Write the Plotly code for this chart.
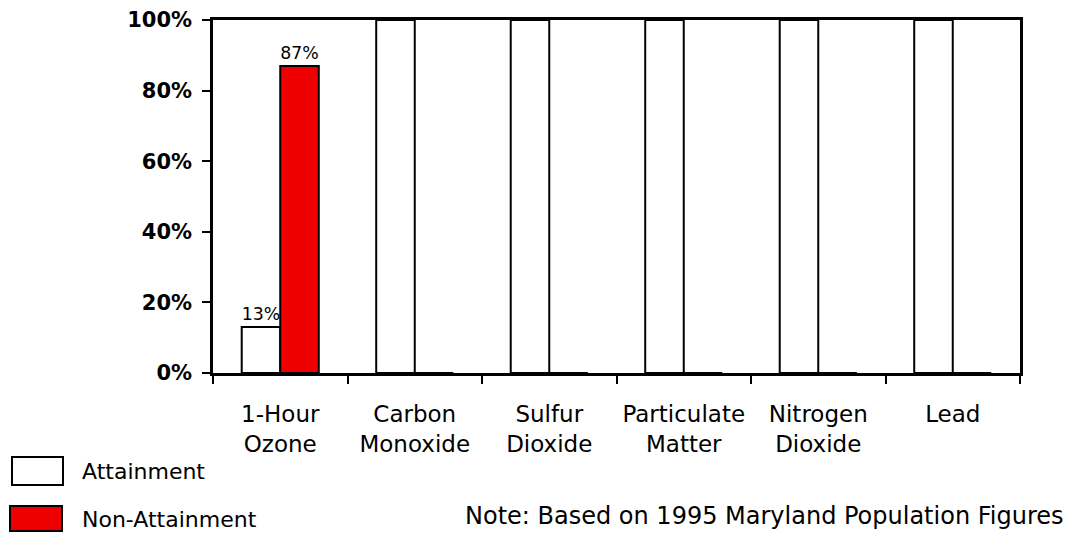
import plotly.graph_objects as go

categories = ["1-Hour<br>Ozone", "Carbon<br>Monoxide", "Sulfur<br>Dioxide",
              "Particulate<br>Matter", "Nitrogen<br>Dioxide", "Lead"]
attainment = [13, 100, 100, 100, 100, 100]
non_attainment = [87, 0, 0, 0, 0, 0]
y_ticks = [0, 20, 40, 60, 80, 100]
y_tick_labels = ["0%", "20%", "40%", "60%", "80%", "100%"]

FONT = "DejaVu Sans"
RED = "#ee0000"


def labels(vals):
    return [f"{v}%" if 0 < v < 100 else "" for v in vals]


fig = go.Figure()
fig.add_trace(go.Bar(
    x=categories, y=attainment, name="Attainment",
    marker=dict(color="white", line=dict(color="black", width=2)),
    text=labels(attainment), textposition="outside",
    textfont=dict(family=FONT, size=21, color="black"),
    cliponaxis=False, showlegend=False,
))
fig.add_trace(go.Bar(
    x=categories, y=non_attainment, name="Non-Attainment",
    marker=dict(color=RED, line=dict(color="black", width=2)),
    text=labels(non_attainment), textposition="outside",
    textfont=dict(family=FONT, size=21, color="black"),
    cliponaxis=False, showlegend=False,
))

fig.update_layout(
    width=1071, height=533,
    margin=dict(l=213, r=51, t=20, b=160, autoexpand=False),
    paper_bgcolor="white", plot_bgcolor="white",
    barmode="group", bargap=0.427, bargroupgap=0,
    font=dict(family=FONT, color="black"),
)
fig.update_xaxes(
    showline=True, linecolor="black", linewidth=2.5, mirror=True,
    ticks="outside", ticklen=8, tickwidth=2, tickcolor="black",
    tickson="boundaries", showgrid=False,
    tickfont=dict(family=FONT, size=23, color="black"),
    ticklabelstandoff=19, automargin=False,
)
fig.update_yaxes(
    range=[0, 100], tickmode="array", tickvals=y_ticks, ticktext=y_tick_labels,
    showline=True, linecolor="black", linewidth=2.5, mirror=True,
    ticks="outside", ticklen=8, tickwidth=2, tickcolor="black",
    showgrid=False, zeroline=False,
    tickfont=dict(family=FONT, size=21, color="black", weight="bold"),
    ticklabelstandoff=6, automargin=False,
)

W, H, L, B = 807.0, 353.0, 213.0, 373.0


def px(x):
    return (x - L) / W


def py(y):
    return (B - y) / H


fig.add_shape(type="rect", xref="paper", yref="paper",
              x0=px(12), x1=px(63), y0=py(485), y1=py(457),
              fillcolor="white", line=dict(color="black", width=2))
fig.add_shape(type="rect", xref="paper", yref="paper",
              x0=px(10), x1=px(62), y0=py(531), y1=py(506),
              fillcolor=RED, line=dict(color="black", width=2))
fig.add_annotation(xref="paper", yref="paper", x=px(80), y=py(471),
                   text="Attainment", showarrow=False, xanchor="left", yanchor="middle",
                   font=dict(family=FONT, size=22, color="black"))
fig.add_annotation(xref="paper", yref="paper", x=px(80), y=py(519),
                   text="Non-Attainment", showarrow=False, xanchor="left", yanchor="middle",
                   font=dict(family=FONT, size=22, color="black"))
fig.add_annotation(xref="paper", yref="paper", x=px(1066), y=py(516),
                   text="Note: Based on 1995 Maryland Population Figures", showarrow=False,
                   xanchor="right", yanchor="middle",
                   font=dict(family=FONT, size=24, color="black"))

fig.write_html("out.html", config={"displayModeBar": False},
               post_script="document.body.style.margin='0';document.body.style.overflow='hidden';")
